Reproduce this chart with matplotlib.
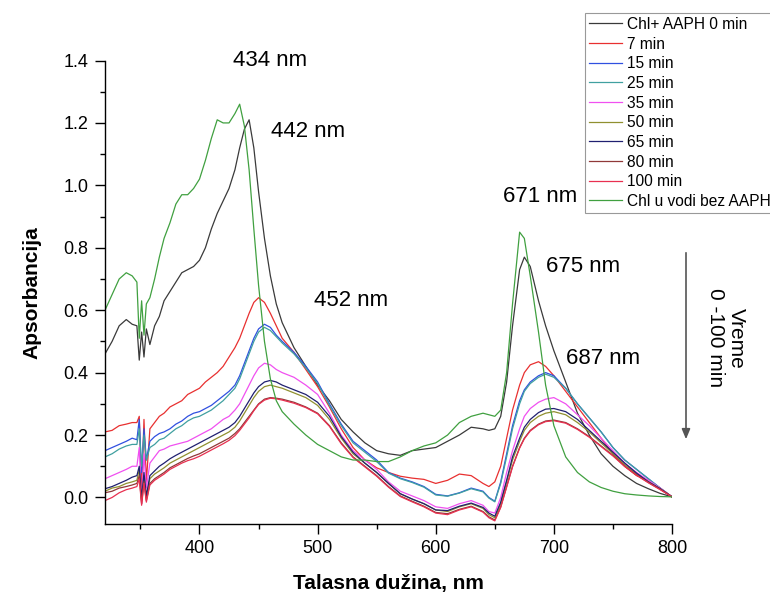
import matplotlib
matplotlib.use("Agg")
import matplotlib.pyplot as plt

plt.rcParams['font.family'] = ['Liberation Sans', 'DejaVu Sans']

wavelength = [320, 326, 332, 338, 343, 347, 349, 351, 353, 355, 358, 362, 366, 370, 375,
              380, 385, 390, 395, 400, 405, 410, 415, 420, 425, 430, 434, 438, 442, 446,
              450, 455, 460, 465, 470, 480, 490, 500, 510, 520, 530, 540, 550, 560, 570,
              580, 590, 600, 610, 620, 630, 640, 645, 650, 655, 660, 665, 671, 675, 680,
              687, 693, 700, 710, 720, 730, 740, 750, 760, 770, 780, 790, 800]

abs_0min = [0.46, 0.50, 0.55, 0.57, 0.555, 0.55, 0.44, 0.53, 0.45, 0.54, 0.49, 0.55, 0.58, 0.63, 0.66,
            0.69, 0.72, 0.73, 0.74, 0.76, 0.80, 0.86, 0.91, 0.95, 0.99, 1.05, 1.12, 1.18, 1.21, 1.12,
            0.98, 0.83, 0.71, 0.62, 0.56, 0.48, 0.42, 0.36, 0.31, 0.25, 0.21, 0.175, 0.15, 0.14, 0.135,
            0.15, 0.155, 0.16, 0.18, 0.20, 0.225, 0.22, 0.215, 0.22, 0.26, 0.37, 0.55, 0.73, 0.77, 0.74,
            0.63, 0.55, 0.47, 0.37, 0.27, 0.20, 0.14, 0.10, 0.07, 0.045, 0.028, 0.013, 0.002]

abs_7min = [0.21, 0.215, 0.23, 0.235, 0.24, 0.24, 0.26, 0.02, 0.25, 0.05, 0.22, 0.24, 0.26, 0.27, 0.29,
            0.30, 0.31, 0.33, 0.34, 0.35, 0.37, 0.385, 0.40, 0.42, 0.45, 0.48, 0.51, 0.55, 0.59, 0.625,
            0.64, 0.625, 0.59, 0.55, 0.51, 0.465, 0.41, 0.355, 0.29, 0.22, 0.16, 0.12, 0.095, 0.08, 0.068,
            0.062, 0.058, 0.045, 0.055, 0.075, 0.07, 0.045, 0.035, 0.05, 0.10, 0.19, 0.28, 0.36, 0.40, 0.425,
            0.435, 0.42, 0.39, 0.34, 0.29, 0.24, 0.19, 0.14, 0.10, 0.07, 0.055, 0.03, 0.002]

abs_15min = [0.15, 0.16, 0.17, 0.18, 0.19, 0.185, 0.25, 0.08, 0.22, 0.12, 0.18, 0.195, 0.205, 0.21, 0.22,
             0.235, 0.245, 0.26, 0.27, 0.275, 0.285, 0.295, 0.31, 0.325, 0.34, 0.36, 0.39, 0.43, 0.47, 0.51,
             0.54, 0.555, 0.545, 0.52, 0.50, 0.465, 0.42, 0.37, 0.30, 0.235, 0.18, 0.15, 0.12, 0.08, 0.062,
             0.05, 0.035, 0.01, 0.005, 0.015, 0.03, 0.02, 0.0, -0.012, 0.05, 0.14, 0.23, 0.31, 0.345, 0.37,
             0.39, 0.40, 0.39, 0.35, 0.30, 0.255, 0.21, 0.16, 0.12, 0.09, 0.06, 0.03, 0.002]

abs_25min = [0.13, 0.14, 0.155, 0.165, 0.17, 0.17, 0.22, 0.10, 0.20, 0.12, 0.16, 0.17, 0.185, 0.19, 0.205,
             0.22, 0.23, 0.245, 0.255, 0.26, 0.27, 0.28, 0.295, 0.31, 0.33, 0.35, 0.38, 0.42, 0.46, 0.50,
             0.53, 0.545, 0.535, 0.515, 0.495, 0.46, 0.415, 0.365, 0.295, 0.23, 0.175, 0.145, 0.115, 0.078, 0.06,
             0.048, 0.033, 0.008, 0.004, 0.014, 0.028, 0.018, -0.002, -0.014, 0.045, 0.13, 0.22, 0.30, 0.34, 0.365,
             0.385, 0.395, 0.385, 0.35, 0.30, 0.255, 0.21, 0.16, 0.12, 0.09, 0.06, 0.03, 0.002]

abs_35min = [0.06, 0.07, 0.08, 0.09, 0.10, 0.10, 0.16, -0.02, 0.14, 0.03, 0.11, 0.13, 0.15, 0.155, 0.165,
             0.17, 0.175, 0.18, 0.19, 0.20, 0.21, 0.22, 0.235, 0.25, 0.26, 0.28, 0.30, 0.33, 0.36, 0.39,
             0.415, 0.43, 0.425, 0.41, 0.40, 0.385, 0.36, 0.33, 0.27, 0.20, 0.15, 0.12, 0.09, 0.05, 0.02,
             0.005, -0.01, -0.03, -0.035, -0.02, -0.01, -0.025, -0.045, -0.05, 0.0, 0.08, 0.15, 0.22, 0.26, 0.285,
             0.305, 0.315, 0.32, 0.30, 0.265, 0.23, 0.19, 0.15, 0.11, 0.08, 0.055, 0.03, 0.002]

abs_50min = [0.02, 0.03, 0.035, 0.045, 0.05, 0.055, 0.09, -0.01, 0.07, 0.0, 0.06, 0.075, 0.085, 0.095, 0.11,
             0.12, 0.13, 0.14, 0.15, 0.16, 0.17, 0.18, 0.19, 0.20, 0.21, 0.225, 0.245, 0.27, 0.295, 0.32,
             0.34, 0.355, 0.36, 0.355, 0.35, 0.335, 0.32, 0.295, 0.25, 0.19, 0.14, 0.11, 0.08, 0.045, 0.012,
             -0.005, -0.02, -0.04, -0.045, -0.03, -0.02, -0.035, -0.055, -0.065, -0.02, 0.05, 0.12, 0.18, 0.215, 0.24,
             0.26, 0.27, 0.275, 0.265, 0.24, 0.21, 0.175, 0.14, 0.105, 0.075, 0.05, 0.028, 0.002]

abs_65min = [0.028, 0.035, 0.045, 0.055, 0.065, 0.07, 0.10, -0.005, 0.08, 0.005, 0.07, 0.085, 0.10, 0.11, 0.124,
             0.135, 0.145, 0.155, 0.165, 0.175, 0.185, 0.195, 0.205, 0.215, 0.225, 0.24, 0.26, 0.285, 0.31, 0.335,
             0.355, 0.37, 0.375, 0.37, 0.36, 0.345, 0.33, 0.305, 0.26, 0.195, 0.145, 0.11, 0.08, 0.045, 0.012,
             -0.005, -0.02, -0.04, -0.042, -0.028, -0.018, -0.032, -0.05, -0.06, -0.015, 0.055, 0.13, 0.19, 0.225, 0.25,
             0.272, 0.283, 0.285, 0.275, 0.25, 0.215, 0.18, 0.145, 0.11, 0.078, 0.05, 0.028, 0.002]

abs_80min = [0.015, 0.02, 0.03, 0.035, 0.04, 0.045, 0.07, -0.02, 0.05, -0.01, 0.045, 0.06, 0.07, 0.08, 0.095,
             0.105, 0.115, 0.125, 0.133, 0.14, 0.15, 0.16, 0.17, 0.18, 0.19, 0.205, 0.22, 0.24, 0.26, 0.28,
             0.30, 0.315, 0.32, 0.318, 0.315, 0.305, 0.29, 0.27, 0.23, 0.175, 0.13, 0.10, 0.07, 0.035, 0.005,
             -0.012, -0.028, -0.048, -0.052, -0.038, -0.028, -0.045, -0.062, -0.072, -0.03, 0.035, 0.10, 0.16, 0.19, 0.215,
             0.235, 0.245, 0.248, 0.24, 0.22, 0.195, 0.165, 0.135, 0.10, 0.072, 0.048, 0.026, 0.002]

abs_100min = [-0.01, 0.0, 0.015, 0.025, 0.03, 0.035, 0.06, -0.025, 0.045, -0.015, 0.04, 0.055, 0.065, 0.075, 0.09,
              0.10, 0.11, 0.118, 0.124, 0.132, 0.142, 0.152, 0.162, 0.172, 0.183, 0.198, 0.215, 0.235, 0.255, 0.278,
              0.298, 0.312, 0.318, 0.316, 0.312, 0.302, 0.288, 0.268, 0.228, 0.172, 0.128, 0.098, 0.068, 0.033, 0.003,
              -0.014, -0.03, -0.05, -0.055, -0.04, -0.03, -0.047, -0.065, -0.075, -0.032, 0.033, 0.098, 0.158, 0.188, 0.213,
              0.233, 0.243, 0.246, 0.238, 0.218, 0.193, 0.163, 0.133, 0.099, 0.071, 0.047, 0.025, 0.002]

abs_water = [0.60, 0.65, 0.70, 0.72, 0.71, 0.69, 0.51, 0.63, 0.52, 0.62, 0.64, 0.70, 0.77, 0.83, 0.88,
             0.94, 0.97, 0.97, 0.99, 1.02, 1.08, 1.15, 1.21, 1.20, 1.20, 1.23, 1.26, 1.19, 1.05, 0.86,
             0.68, 0.50, 0.38, 0.31, 0.275, 0.235, 0.20, 0.17, 0.15, 0.13, 0.12, 0.12, 0.115, 0.115, 0.13,
             0.15, 0.165, 0.175, 0.20, 0.24, 0.26, 0.27, 0.265, 0.26, 0.28, 0.40, 0.62, 0.85, 0.83, 0.71,
             0.53, 0.36, 0.23, 0.13, 0.08, 0.05, 0.032, 0.02, 0.012, 0.008, 0.005, 0.003, 0.002]

series_labels = ["Chl+ AAPH 0 min", "7 min", "15 min", "25 min", "35 min", "50 min",
                 "65 min", "80 min", "100 min", "Chl u vodi bez AAPH"]
series_values = [abs_0min, abs_7min, abs_15min, abs_25min, abs_35min, abs_50min,
                 abs_65min, abs_80min, abs_100min, abs_water]
series_colors = ["#3a3a3a", "#e83030", "#3050e0", "#40a0a0", "#f050f0", "#909030",
                 "#202070", "#903838", "#e83050", "#40a040"]

peak_labels = ["434 nm", "442 nm", "452 nm", "671 nm", "675 nm", "687 nm"]

fig = plt.figure(figsize=(7.7, 5.94), dpi=100)
ax = fig.add_axes([105/770, 70/594, (672-105)/770, (524-60.5)/594])

handles = []
for lab, vals, col in zip(series_labels, series_values, series_colors):
    h, = ax.plot(wavelength, vals, color=col, lw=0.9, label=lab)
    handles.append(h)

ax.set_xlim(320, 800)
ax.set_ylim(-0.085, 1.4)
ax.set_xticks([400, 500, 600, 700, 800])
ax.set_xticks([350, 450, 550, 650, 750], minor=True)
ax.set_yticks([0.0, 0.2, 0.4, 0.6, 0.8, 1.0, 1.2, 1.4])
ax.set_yticks([0.1, 0.3, 0.5, 0.7, 0.9, 1.1, 1.3], minor=True)
ax.set_yticklabels([f"{v:.1f}" for v in [0.0, 0.2, 0.4, 0.6, 0.8, 1.0, 1.2, 1.4]])
for s in ["top", "right"]:
    ax.spines[s].set_visible(False)
for s in ["left", "bottom"]:
    ax.spines[s].set_linewidth(1.0)
ax.tick_params(which="major", direction="out", length=7.2, width=1.0, labelsize=13, pad=4.5)
ax.tick_params(which="minor", direction="out", length=3.6, width=1.0)

ax.set_xlabel("Talasna dužina, nm", fontsize=15, fontweight="bold", labelpad=12)
ax.set_ylabel("Apsorbancija", fontsize=15, fontweight="bold", labelpad=16)

# peak annotations (positions in figure pixels)
peak_pos = [(270, 60), (308, 131), (351, 300), (540, 196), (583, 267), (603, 359)]
for txt, (px, py) in zip(peak_labels, peak_pos):
    fig.text(px/770, 1 - py/594, txt, fontsize=16, ha="center", va="center")

# time arrow
fig.add_artist(matplotlib.patches.FancyArrowPatch(
    (686/770, 1 - 250/594), (686/770, 1 - 442/594), transform=fig.transFigure,
    arrowstyle="-|>,head_length=6,head_width=2.5", color="#555555", lw=1.2,
    mutation_scale=1))
fig.text(726/770, 1 - 338/594, "Vreme\n0 -100 min", rotation=-90, fontsize=15,
         ha="center", va="center", multialignment="center", linespacing=1.15)

leg = fig.legend(handles=handles, labels=series_labels, loc="upper left",
                 bbox_to_anchor=(585/770, 1 - 13/594), bbox_transform=fig.transFigure,
                 fontsize=11.2, frameon=True, fancybox=False, borderaxespad=0,
                 borderpad=0.25, labelspacing=0.3, handlelength=2.1, handletextpad=0.35)
leg.get_frame().set_edgecolor("#808080")
leg.get_frame().set_linewidth(0.8)

fig.savefig("out.png", dpi=100)
